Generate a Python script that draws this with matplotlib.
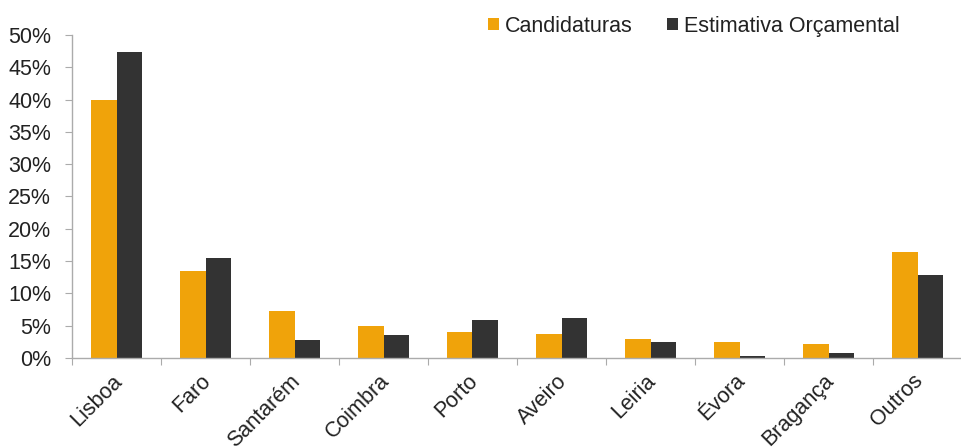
import matplotlib
matplotlib.use("Agg")
import matplotlib.pyplot as plt
import matplotlib.transforms as mtransforms
import numpy as np
from matplotlib.ticker import PercentFormatter, MultipleLocator

regioes = ["Lisboa", "Faro", "Santarém", "Coimbra", "Porto", "Aveiro",
           "Leiria", "Évora", "Bragança", "Outros"]
candidaturas = [40.0, 13.4, 7.3, 4.9, 4.1, 3.7, 3.0, 2.5, 2.1, 16.4]
estimativa = [47.3, 15.5, 2.8, 3.6, 5.9, 6.2, 2.5, 0.35, 0.7, 12.9]

laranja = "#F0A30A"
escuro = "#333333"
cinza = "#ABABAB"
texto = "#222222"

plt.rcParams["font.family"] = ["Liberation Sans", "DejaVu Sans"]

fig = plt.figure(figsize=(9.62, 4.48), dpi=100)
W, H = 962, 448
# axes: x from 72px, 0% at y=358px, 50% at y=35px; image cut on the right
ax = fig.add_axes([72 / W, (H - 358) / H, (W - 72) / W, (358 - 35) / H])

x = np.arange(len(regioes))
w = 0.29
ax.bar(x - w / 2, candidaturas, w, color=laranja, label="Candidaturas")
ax.bar(x + w / 2, estimativa, w, color=escuro, label="Estimativa Orçamental")

ax.set_ylim(0, 50)
ax.set_xlim(-0.5, -0.5 + (W - 72) / 90.5)
ax.yaxis.set_major_locator(MultipleLocator(5))
ax.yaxis.set_major_formatter(PercentFormatter(decimals=0))

# ticks between categories, labels at centres
ax.set_xticks(np.arange(-0.5, len(regioes), 1.0))
ax.set_xticklabels([])
ax.set_xticks(x, minor=True)
ax.set_xticklabels(regioes, minor=True, rotation=45, ha="right",
                   rotation_mode="anchor", fontsize=15.5, color=texto)
ax.tick_params(axis="x", which="minor", length=0, pad=9)
ax.tick_params(axis="x", which="major", length=5, color=cinza, direction="out")
ax.tick_params(axis="y", length=5, color=cinza, labelsize=15.5, labelcolor=texto, pad=10)

desloc = mtransforms.ScaledTranslation(-5 / 100, 0, fig.dpi_scale_trans)
for lab in ax.get_xticklabels(minor=True):
    lab.set_transform(lab.get_transform() + desloc)

for s in ["top", "right"]:
    ax.spines[s].set_visible(False)
for s in ["left", "bottom"]:
    ax.spines[s].set_color(cinza)
    ax.spines[s].set_linewidth(1.0)

fig.legend(loc="upper left", bbox_to_anchor=(477 / W, 1 - 5 / H), ncol=2,
           frameon=False, fontsize=15.5, borderpad=0, handlelength=0.5,
           handleheight=0.5, handletextpad=0.3, columnspacing=1.6,
           labelcolor=texto)

fig.savefig("out.png", dpi=100)
